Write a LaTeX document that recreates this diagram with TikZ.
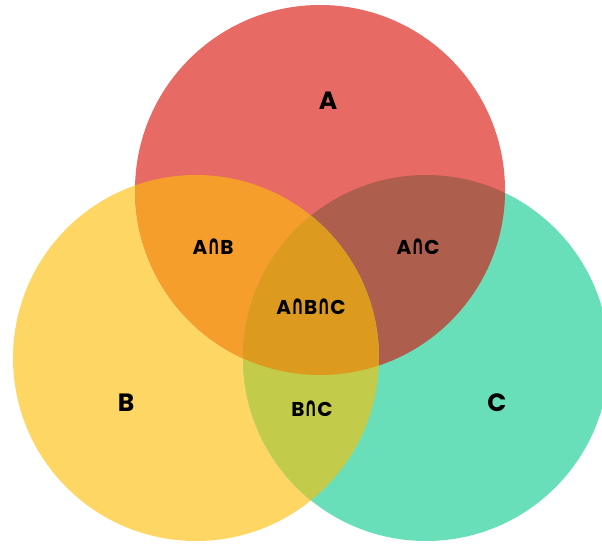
\documentclass[tikz,border=0pt]{standalone}
\usepackage{fontspec}
\usepackage{graphicx}
\setmainfont{Poppins}
\newfontfamily\symfam{DejaVu Sans}
\usepackage{tikz}

\newcommand{\isect}{\scalebox{0.8}[1.35]{\symfam\char"2229}}

\definecolor{colA}{HTML}{E86A64}
\definecolor{colB}{HTML}{FDD664}
\definecolor{colC}{HTML}{69DFB9}
\definecolor{colAB}{HTML}{F59E2B}
\definecolor{colAC}{HTML}{AD5E4C}
\definecolor{colBC}{HTML}{C3CB4B}
\definecolor{colABC}{HTML}{DC9A1F}

\tikzset{
  setlabel/.style={font=\bfseries\fontsize{25}{27}\selectfont, text=black, inner sep=0pt},
  cutlabel/.style={font=\bfseries\fontsize{20}{22}\selectfont, text=black, inner sep=0pt}
}

\begin{document}
\begin{tikzpicture}[x=1pt,y=-1pt]
            \useasboundingbox (0,0) rectangle (602,544);
            \coordinate (ca) at (320,190);
            \coordinate (cb) at (196,358);
            \coordinate (cc) at (426,358);
            \fill[colB] (cb) circle (183pt);
            \fill[colC] (cc) circle (183pt);
            \fill[colA] (ca) circle (185pt);
            \begin{scope}
              \clip (ca) circle (185pt);
              \fill[colAB] (cb) circle (183pt);
              \fill[colAC] (cc) circle (183pt);
            \end{scope}
            \begin{scope}
              \clip (cb) circle (183pt);
              \fill[colBC] (cc) circle (183pt);
              \clip (cc) circle (183pt);
              \fill[colABC] (ca) circle (185pt);
            \end{scope}
            \node[setlabel] (a) at (328,101) {A};
            \node[setlabel] (b) at (126,403) {B};
            \node[setlabel] (c) at (497,403) {C};
            \node[cutlabel] (ab) at (213,247) {A\isect B};
            \node[cutlabel] (ac) at (418,247) {A\isect C};
            \node[cutlabel] (abc) at (311,307) {A\isect B\isect C};
            \node[cutlabel] (bc) at (312,409) {B\isect C};
          \end{tikzpicture}
\end{document}
